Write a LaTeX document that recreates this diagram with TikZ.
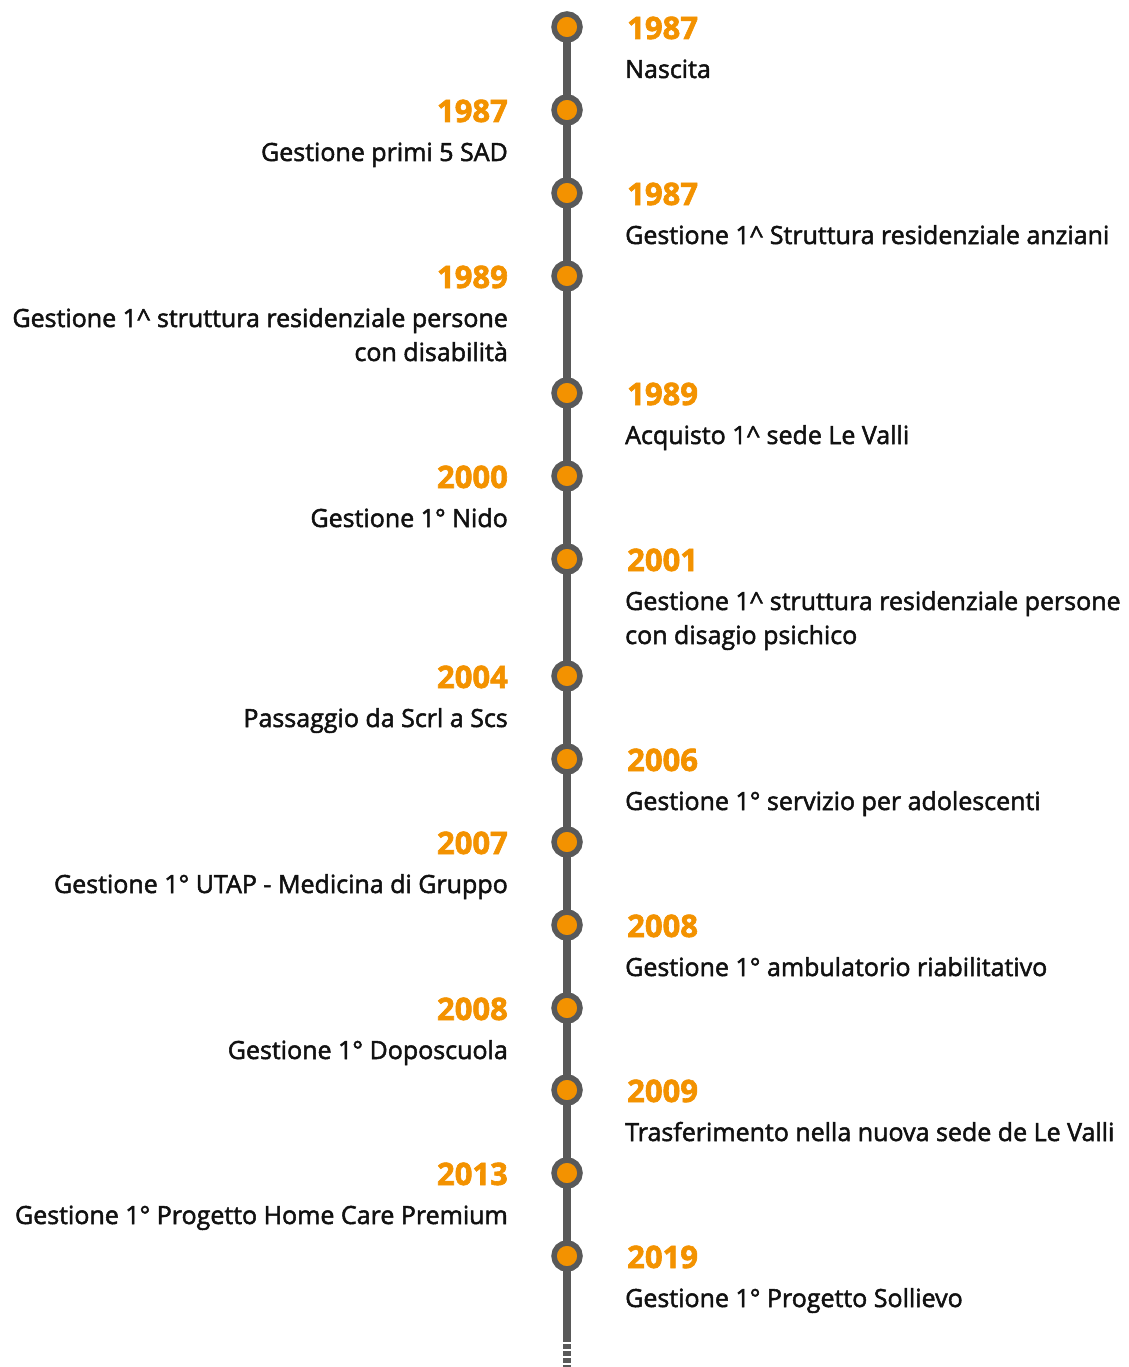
\documentclass[tikz,border=0pt]{standalone}
\usepackage{fontspec}
\setmainfont{Open Sans}[FakeBold=2]
\usetikzlibrary{positioning,backgrounds}
\definecolor{tlorange}{HTML}{F39200}
\definecolor{tlgray}{HTML}{595959}
\definecolor{tltext}{HTML}{111111}

\begin{document}
\begin{tikzpicture}[
  x=1pt, y=-1pt,
  milestone/.style={
    circle, draw=tlgray, fill=tlorange, line width=5.5pt, minimum size=26pt, inner sep=0pt
  },
  yearR/.style={
    anchor=base west, inner sep=0pt, text=tlorange, font=\fontsize{31}{31}\selectfont\bfseries
  },
  yearL/.style={yearR, anchor=base east},
  descR/.style={
    anchor=base west, inner sep=0pt, text=tltext, align=left, font=\fontsize{25}{34}\selectfont
  },
  descL/.style={descR, anchor=base east, align=right},
  spine/.style={draw=tlgray, line width=8pt}
]
  \useasboundingbox (0,0) rectangle (1128,1367);

  % Milestones on the spine
  \node[milestone] (nascita)       at (567,27)   {};
  \node[milestone] (sad)           at (567,110)  {};
  \node[milestone] (anziani)       at (567,193)  {};
  \node[milestone] (disabili)      at (567,276)  {};
  \node[milestone] (sede)          at (567,393)  {};
  \node[milestone] (nido)          at (567,476)  {};
  \node[milestone] (psichico)      at (567,559)  {};
  \node[milestone] (scs)           at (567,676)  {};
  \node[milestone] (adolescenti)   at (567,759)  {};
  \node[milestone] (utap)          at (567,842)  {};
  \node[milestone] (ambulatorio)   at (567,925)  {};
  \node[milestone] (doposcuola)    at (567,1008) {};
  \node[milestone] (trasferimento) at (567,1090) {};
  \node[milestone] (hcp)           at (567,1173) {};
  \node[milestone] (sollievo)      at (567,1256) {};
  \coordinate (fine) at (567,1337);
  \coordinate (coda) at (567,1367);

  % Years and descriptions, alternating sides (base = last line)
  \node[yearR] (nascita-y) at (627,39) {1987};
  \node[descR] (nascita-t) at (625,78) {Nascita};

  \node[yearL] (sad-y) at (508,122) {1987};
  \node[descL] (sad-t) at (508,161) {Gestione primi 5 SAD};

  \node[yearR] (anziani-y) at (627,205) {1987};
  \node[descR] (anziani-t) at (625,244) {Gestione 1\^{} Struttura residenziale anziani};

  \node[yearL] (disabili-y) at (508,288) {1989};
  \node[descL] (disabili-t) at (508,361) {Gestione 1\^{} struttura residenziale persone\\con disabilità};

  \node[yearR] (sede-y) at (627,405) {1989};
  \node[descR] (sede-t) at (625,444) {Acquisto 1\^{} sede Le Valli};

  \node[yearL] (nido-y) at (508,488) {2000};
  \node[descL] (nido-t) at (508,527) {Gestione 1° Nido};

  \node[yearR] (psichico-y) at (627,571) {2001};
  \node[descR] (psichico-t) at (625,644) {Gestione 1\^{} struttura residenziale persone\\con disagio psichico};

  \node[yearL] (scs-y) at (508,688) {2004};
  \node[descL] (scs-t) at (508,727) {Passaggio da Scrl a Scs};

  \node[yearR] (adolescenti-y) at (627,771) {2006};
  \node[descR] (adolescenti-t) at (625,810) {Gestione 1° servizio per adolescenti};

  \node[yearL] (utap-y) at (508,854) {2007};
  \node[descL] (utap-t) at (508,893) {Gestione 1° UTAP - Medicina di Gruppo};

  \node[yearR] (ambulatorio-y) at (627,937) {2008};
  \node[descR] (ambulatorio-t) at (625,976) {Gestione 1° ambulatorio riabilitativo};

  \node[yearL] (doposcuola-y) at (508,1020) {2008};
  \node[descL] (doposcuola-t) at (508,1059) {Gestione 1° Doposcuola};

  \node[yearR] (trasferimento-y) at (627,1102) {2009};
  \node[descR] (trasferimento-t) at (625,1141) {Trasferimento nella nuova sede de Le Valli};

  \node[yearL] (hcp-y) at (508,1185) {2013};
  \node[descL] (hcp-t) at (508,1224) {Gestione 1° Progetto Home Care Premium};

  \node[yearR] (sollievo-y) at (627,1268) {2019};
  \node[descR] (sollievo-t) at (625,1307) {Gestione 1° Progetto Sollievo};

  % Spine behind the milestones
  \begin{scope}[on background layer]
    \draw[spine] (nascita.center) -- (sollievo.center) -- (fine);
    \draw[spine, dash pattern=on 5pt off 2pt] (fine) -- (coda);
  \end{scope}
\end{tikzpicture}
\end{document}
